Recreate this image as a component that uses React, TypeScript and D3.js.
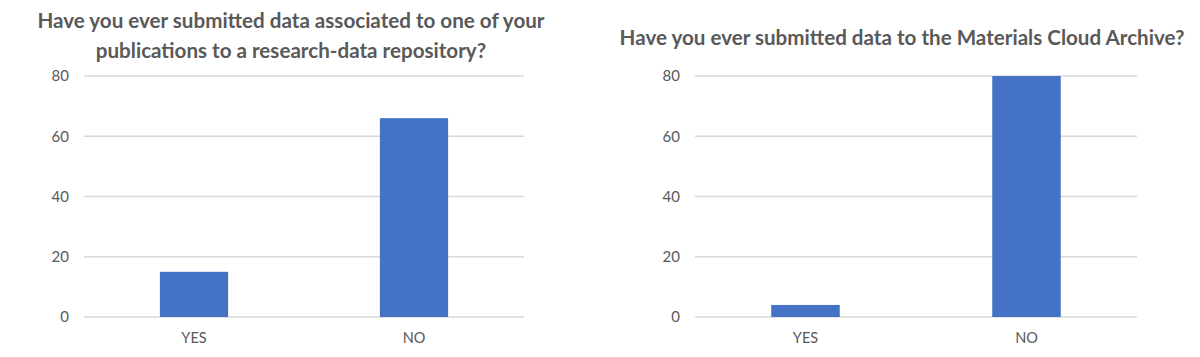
import React from "react";
import * as d3 from "d3";

const categories = ["YES", "NO"];
const repoValues = [15, 66];
const archiveValues = [4, 80];
const yTicks = [0, 20, 40, 60, 80];
const leftTitle = [
  "Have you ever submitted data associated to one of your",
  "publications to a research-data repository?",
];
const rightTitle = ["Have you ever submitted data to the Materials Cloud Archive?"];

const FONT = "Lato, 'Open Sans', sans-serif";
const TEXT = "#595959";
const GRID = "#d9d9d9";
const BAR = "#4472C4";

type PanelProps = {
  values: number[];
  title: string[];
  titleX: number;
  titleY: number[];
  x0: number;
  x1: number;
};

function Panel({ values, title, titleX, titleY, x0, x1 }: PanelProps) {
  const y = d3.scaleLinear().domain([0, 80]).range([317, 76]);
  const x = d3.scaleBand().domain(categories).range([x0, x1]).paddingInner(0.69).paddingOuter(0.345);
  return (
    <g>
      {title.map((t, i) => (
        <text
          key={i}
          x={titleX}
          y={titleY[i]}
          textAnchor="middle"
          fontFamily={FONT}
          fontWeight={700}
          fontSize={20.6}
          fill={TEXT}
        >
          {t}
        </text>
      ))}
      {yTicks.map((t) => (
        <g key={t}>
          <line x1={x0} x2={x1} y1={y(t)} y2={y(t)} stroke={GRID} strokeWidth={1.3} />
          <text
            x={x0 - 15}
            y={y(t)}
            dy="0.35em"
            textAnchor="end"
            fontFamily={FONT}
            fontSize={15}
            fill={TEXT}
          >
            {t}
          </text>
        </g>
      ))}
      {categories.map((c, i) => (
        <g key={c}>
          <rect
            x={x(c)}
            y={y(values[i])}
            width={x.bandwidth()}
            height={y(0) - y(values[i])}
            fill={BAR}
          />
          <text
            x={(x(c) as number) + x.bandwidth() / 2}
            y={338}
            dy="0.35em"
            textAnchor="middle"
            fontFamily={FONT}
            fontSize={14.5}
            fill={TEXT}
          >
            {c}
          </text>
        </g>
      ))}
    </g>
  );
}

export default function App() {
  return (
    <svg
      width={1200}
      height={357}
      style={{ position: "absolute", left: 0, top: 0, background: "#fff" }}
    >
      <rect width={1200} height={357} fill="#fff" />
      <Panel values={repoValues} title={leftTitle} titleX={291} titleY={[28, 58]} x0={84} x1={524} />
      <Panel values={archiveValues} title={rightTitle} titleX={902} titleY={[45]} x0={695} x1={1137} />
    </svg>
  );
}
